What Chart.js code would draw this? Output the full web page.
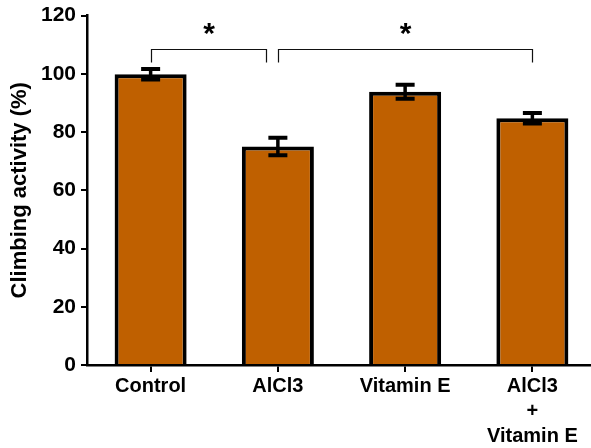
<!DOCTYPE html>
<html>
<head>
<meta charset="utf-8">
<script src="https://cdn.jsdelivr.net/npm/chart.js@4/dist/chart.umd.min.js"></script>
<style>
  html, body { margin: 0; padding: 0; background: #fff; overflow: hidden; }
  #wrap { width: 596px; height: 448px; }
</style>
</head>
<body>
<div id="wrap"><canvas id="c" width="596" height="448"></canvas></div>
<script>
// Groups, mean climbing activity (%) and SEM
const groups = ['Control', 'AlCl3', 'Vitamin E', ['AlCl3', '+', 'Vitamin E']];
const means = [99.8, 75.0, 93.8, 84.7];
const sem = [1.8, 3.0, 2.4, 1.8];
const yTicks = [0, 20, 40, 60, 80, 100, 120];
// Significance comparisons: [from group, to group, mark]
const comparisons = [[0, 1, '*'], [1, 3, '*']];
const bracketLevel = 108.5;
const bracketDrop = 4.6;

const FONT = '"Liberation Sans", Arial, sans-serif';

const errorBars = {
  id: 'errorBars',
  afterDatasetsDraw(chart) {
    const { ctx } = chart;
    const y = chart.scales.y;
    const meta = chart.getDatasetMeta(0);
    ctx.save();
    ctx.strokeStyle = '#000';
    meta.data.forEach((bar, i) => {
      const x = bar.x;
      const top = y.getPixelForValue(means[i] + sem[i]);
      const bot = y.getPixelForValue(means[i] - sem[i]);
      ctx.lineWidth = 3.5;
      ctx.beginPath();
      ctx.moveTo(x, top); ctx.lineTo(x, bot);
      ctx.stroke();
      ctx.lineWidth = 4;
      ctx.beginPath();
      ctx.moveTo(x - 9.5, top); ctx.lineTo(x + 9.5, top);
      ctx.moveTo(x - 9.5, bot); ctx.lineTo(x + 9.5, bot);
      ctx.stroke();
    });
    ctx.restore();
  }
};

const brackets = {
  id: 'brackets',
  afterDraw(chart) {
    const { ctx } = chart;
    const y = chart.scales.y;
    const meta = chart.getDatasetMeta(0);
    const yTop = Math.round(y.getPixelForValue(bracketLevel)) + 0.5;
    const yEnd = y.getPixelForValue(bracketLevel - bracketDrop);
    ctx.save();
    ctx.strokeStyle = '#111';
    ctx.lineWidth = 1.2;
    comparisons.forEach(([a, b, mark], k) => {
      let x1 = meta.data[a].x;
      let x2 = meta.data[b].x;
      // keep adjacent brackets from touching at a shared group
      if (k < comparisons.length - 1 && comparisons[k + 1][0] === b) x2 -= 12;
      x1 = Math.round(x1) + 0.5; x2 = Math.round(x2) + 0.5;
      ctx.beginPath();
      ctx.moveTo(x1, yEnd); ctx.lineTo(x1, yTop);
      ctx.lineTo(x2, yTop); ctx.lineTo(x2, yEnd);
      ctx.stroke();
      ctx.fillStyle = '#000';
      ctx.font = 'bold 30px ' + FONT;
      ctx.textAlign = 'center';
      ctx.textBaseline = 'middle';
      ctx.fillText(mark, (x1 + x2) / 2, yTop - 15);
    });
    ctx.restore();
  }
};

new Chart(document.getElementById('c'), {
  type: 'bar',
  data: {
    labels: groups,
    datasets: [{
      data: means,
      backgroundColor: '#BF6000',
      borderColor: '#000',
      borderWidth: 4,
      borderSkipped: 'bottom',
      categoryPercentage: 1,
      barPercentage: 0.566
    }]
  },
  options: {
    responsive: false,
    animation: false,
    events: [],
    layout: { padding: { top: 13.5, left: 0, right: 0, bottom: 0 } },
    plugins: { legend: { display: false }, tooltip: { enabled: false } },
    scales: {
      x: {
        offset: true,
        grid: { display: true, drawOnChartArea: false, drawTicks: true, tickLength: 7, color: '#000', lineWidth: 2, offset: false },
        border: { display: true, color: '#000', width: 2.5 },
        ticks: { color: '#000', font: { family: FONT, size: 20, weight: 'bold', lineHeight: 1.25 }, padding: 2, maxRotation: 0, autoSkip: false },
        afterFit(s) { s.height = 83; }
      },
      y: {
        min: 0, max: 120,
        afterBuildTicks(s) { s.ticks = yTicks.map(v => ({ value: v })); },
        grid: { display: true, drawOnChartArea: false, drawTicks: true, tickLength: 6, color: '#000', lineWidth: 2 },
        border: { display: true, color: '#000', width: 2.5 },
        ticks: { color: '#000', font: { family: FONT, size: 21, weight: 'bold', lineHeight: 1 }, padding: 5 },
        title: { display: true, text: 'Climbing activity (%)', color: '#000', font: { family: FONT, size: 22, weight: 'bold' }, padding: { top: 7, bottom: 2 } },
        afterFit(s) { s.width = 87; }
      }
    }
  },
  plugins: [errorBars, brackets]
});
</script>
</body>
</html>
